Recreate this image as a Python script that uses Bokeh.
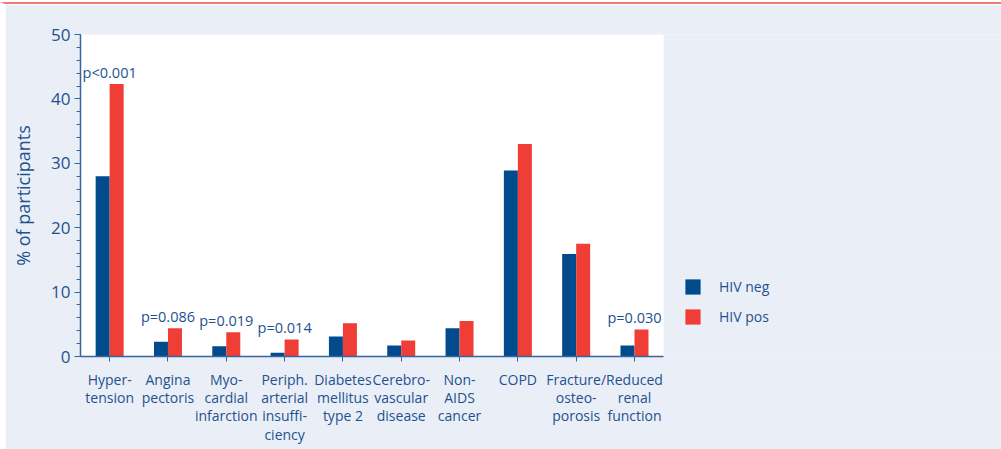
from bokeh.plotting import figure
from bokeh.models import (Range1d, ColumnDataSource, Legend, LegendItem,
                          FixedTicker, BoxAnnotation)
from bokeh.core.properties import value
from bokeh.embed import file_html
from bokeh.resources import INLINE

# ---- data ----
categories = ["Hyper-\ntension", "Angina\npectoris", "Myo-\ncardial\ninfarction",
              "Periph.\narterial\ninsuffi-\nciency", "Diabetes\nmellitus\ntype 2",
              "Cerebro-\nvascular\ndisease", "Non-\nAIDS\ncancer", "COPD",
              "Fracture/\nosteo-\nporosis", "Reduced\nrenal\nfunction"]
hiv_neg = [28.0, 2.3, 1.6, 0.6, 3.1, 1.7, 4.4, 28.9, 15.9, 1.7]
hiv_pos = [42.3, 4.4, 3.75, 2.65, 5.15, 2.5, 5.5, 33.0, 17.5, 4.2]
p_values = ["p<0.001", "p=0.086", "p=0.019", "p=0.014", "", "", "", "", "", "p=0.030"]
y_ticks = [0, 10, 20, 30, 40, 50]
y_max = 50
series_names = ["HIV neg", "HIV pos"]

FONT = "Open Sans"
TXT = "#1d5290"
AXC = "#3566a0"
BG = "#eaeef6"
BLUE = "#014a8c"
RED = "#ef3e36"

# ---- layout (pixels) ----
CW, CH = 996, 445                  # canvas (content) size
LEFT, TOP, BOTTOM = 75, 30, 95
PLOT_PX = 580                      # width of the white plotting area
n = len(categories)
x_end = n * (CW - LEFT) / PLOT_PX  # frame extends right to hold the legend

centers = [i + 0.5 for i in range(n)]
bw = 0.24
src = ColumnDataSource(dict(
    x=centers,
    xneg=[c - bw / 2 for c in centers],
    xpos=[c + bw / 2 for c in centers],
    neg=hiv_neg, pos=hiv_pos, p=p_values))

p = figure(x_range=Range1d(0, x_end), y_range=Range1d(0, y_max),
           width=CW + 5, height=CH + 2, output_backend="svg", toolbar_location=None,
           min_border_left=LEFT, min_border_right=0,
           min_border_top=TOP, min_border_bottom=BOTTOM)
p.styles = {"margin-top": "2px", "border-top": "2px solid #f07a70",
            "border-left": "5px solid white"}
p.border_fill_color = BG
p.background_fill_color = BG
p.outline_line_color = None
p.xgrid.grid_line_color = None
p.ygrid.grid_line_color = None

# white plotting area
p.add_layout(BoxAnnotation(left=0, right=n, bottom=0, top=y_max,
                           fill_color="white", fill_alpha=1, line_color=None,
                           level="underlay"))

r_neg = p.vbar(x="xneg", top="neg", width=bw, source=src,
               fill_color=BLUE, line_color=None)
r_pos = p.vbar(x="xpos", top="pos", width=bw, source=src,
               fill_color=RED, line_color=None)

p.text(x="x", y="pos", text="p", source=src, text_align="center",
       text_baseline="bottom", y_offset=-2, text_color=TXT,
       text_font=value(FONT), text_font_size="14.5px")

# axes
ya = p.yaxis[0]
ya.ticker = FixedTicker(ticks=y_ticks, minor_ticks=list(range(0, y_max + 1, 2)))
ya.axis_label = "% of participants"
ya.axis_label_text_font = FONT
ya.axis_label_text_font_style = "normal"
ya.axis_label_text_font_size = "18px"
ya.axis_label_text_color = TXT
ya.axis_label_standoff = 13
ya.major_label_text_font = FONT
ya.major_label_text_font_size = "17px"
ya.major_label_text_color = TXT
ya.major_label_standoff = 4
ya.axis_line_color = AXC
ya.axis_line_width = 1.5
ya.major_tick_line_color = AXC
ya.minor_tick_line_color = AXC
ya.major_tick_in = 0
ya.major_tick_out = 6
ya.minor_tick_in = 0
ya.minor_tick_out = 4

xa = p.xaxis[0]
xa.ticker = FixedTicker(ticks=centers, minor_ticks=[])
xa.major_label_overrides = {c: lab for c, lab in zip(centers, categories)}
xa.bounds = (0, n)
xa.major_label_text_font = FONT
xa.major_label_text_font_size = "14px"
xa.major_label_text_line_height = 0.97
xa.major_label_text_color = TXT
xa.major_label_standoff = 8
xa.axis_line_color = AXC
xa.axis_line_width = 1.5
xa.major_tick_line_color = AXC
xa.major_tick_in = 0
xa.major_tick_out = 5
xa.minor_tick_line_color = None
xa.major_label_orientation = "horizontal"

legend = Legend(items=[LegendItem(label=series_names[0], renderers=[r_neg]),
                       LegendItem(label=series_names[1], renderers=[r_pos])],
                location=(603, 30), orientation="vertical")
legend.background_fill_alpha = 0
legend.border_line_color = None
legend.padding = 0
legend.margin = 0
legend.spacing = 11
legend.glyph_width = 19
legend.glyph_height = 19
legend.label_height = 19
legend.label_standoff = 17
legend.label_text_font = FONT
legend.label_text_font_size = "14px"
legend.label_text_color = TXT
p.add_layout(legend, "center")

open("out.html", "w").write(file_html(p, INLINE))
